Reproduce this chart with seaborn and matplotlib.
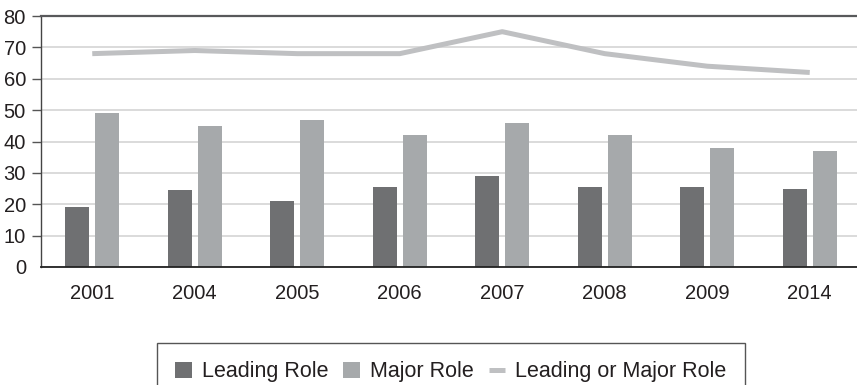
import numpy as np
import pandas as pd
import matplotlib
matplotlib.use("Agg")
import matplotlib.pyplot as plt
import seaborn as sns

# Survey years and role shares (percent)
years = ["2001", "2004", "2005", "2006", "2007", "2008", "2009", "2014"]
leading_role = [19, 24.5, 21, 25.5, 29, 25.5, 25.5, 25]
major_role = [49, 45, 47, 42, 46, 42, 38, 37]
leading_or_major = [68, 69, 68, 68, 75, 68, 64, 62]
series_names = ["Leading Role", "Major Role", "Leading or Major Role"]
y_ticks = [0, 10, 20, 30, 40, 50, 60, 70, 80]

bar_colors = ["#6f7072", "#a6a9ab"]
line_color = "#bfc0c2"
text_color = "#231f20"

sns.set_style("white")
plt.rcParams["font.family"] = ["Liberation Sans", "DejaVu Sans"]

df = pd.DataFrame({
    "year": years * 2,
    "value": leading_role + major_role,
    "role": [series_names[0]] * len(years) + [series_names[1]] * len(years),
})

W, H = 857, 385
fig = plt.figure(figsize=(W / 100, H / 100), dpi=100)
ax = fig.add_axes([41 / W, (H - 267) / H, 820 / W, 251 / H])

sns.barplot(data=df, x="year", y="value", hue="role", order=years,
            hue_order=series_names[:2], palette=bar_colors, saturation=1,
            width=0.585, gap=0.2, linewidth=0, ax=ax)
sns.lineplot(x=np.arange(len(years)), y=leading_or_major, color=line_color,
             linewidth=3.6, label=series_names[2], ax=ax, zorder=3,
             solid_capstyle="butt", solid_joinstyle="round")

ax.set_xlim(-0.5, len(years) - 0.5)
ax.set_ylim(0, 80)
ax.set_yticks(y_ticks)
ax.set_xticks(range(len(years)))
ax.set_xticklabels(years)
ax.set_xlabel("")
ax.set_ylabel("")

# Horizontal gridlines
ax.yaxis.grid(True, color="#d4d4d4", linewidth=1.2)
ax.xaxis.grid(False)
ax.set_axisbelow(True)

ax.spines["right"].set_visible(False)
ax.spines["top"].set_color("#58595b")
ax.spines["top"].set_linewidth(1.6)
ax.spines["left"].set_color("#444444")
ax.spines["left"].set_linewidth(1.0)
ax.spines["bottom"].set_color("#222222")
ax.spines["bottom"].set_linewidth(1.3)

ax.tick_params(axis="y", direction="out", length=6.5, width=1.0,
               color="#555555", pad=4.3, labelsize=14.5, labelcolor=text_color,
               left=True)
ax.tick_params(axis="x", length=0, pad=12, labelsize=14.5, labelcolor=text_color)
ax.yaxis.get_major_ticks()[0].tick1line.set_visible(False)

handles, labels = ax.get_legend_handles_labels()
if ax.get_legend() is not None:
    ax.get_legend().remove()
order = [labels.index(n) for n in series_names]
leg = fig.legend([handles[i] for i in order], [labels[i] for i in order],
                 loc="upper left", bbox_to_anchor=(157 / W, 1 - 343 / H),
                 ncol=3, frameon=True, fancybox=False, framealpha=1,
                 edgecolor="#555555", borderpad=0.85, borderaxespad=0,
                 handlelength=0.78, handleheight=0.78, handletextpad=0.45,
                 columnspacing=0.7,
                 prop={"size": 15.5})
leg.get_frame().set_linewidth(1.0)
for t in leg.get_texts():
    t.set_color(text_color)

fig.savefig("out.png", dpi=100)
